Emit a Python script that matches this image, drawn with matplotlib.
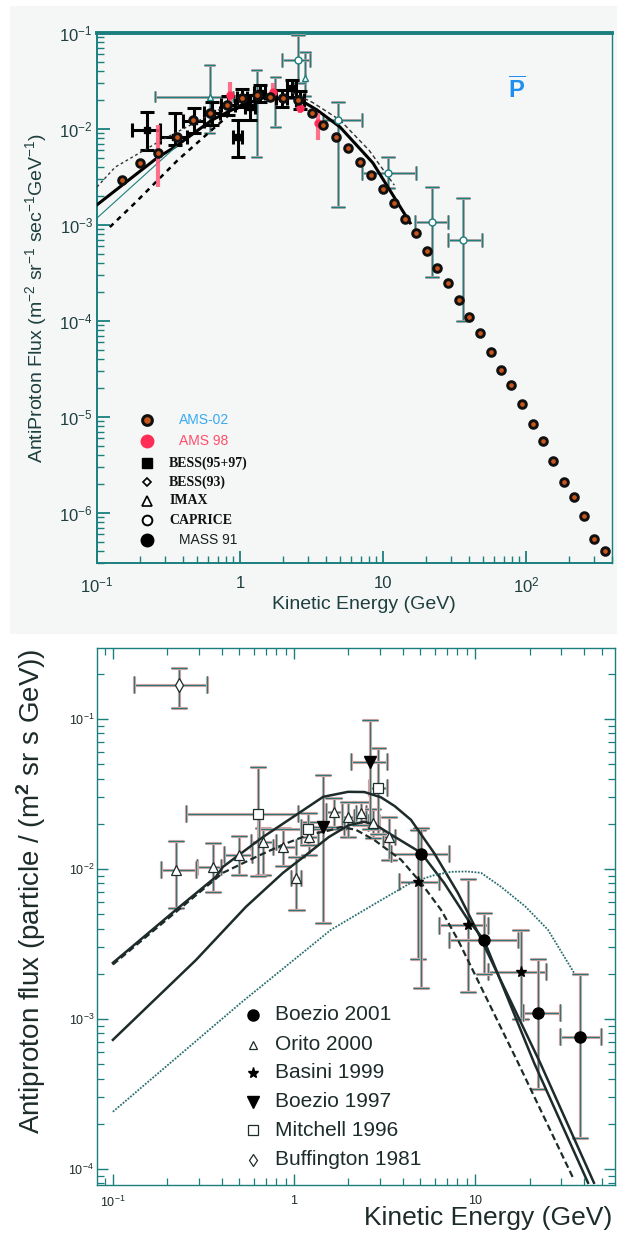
import matplotlib
matplotlib.use("Agg")
import matplotlib.pyplot as plt
import matplotlib.patheffects as pe
from matplotlib.patches import Rectangle
from matplotlib.ticker import FixedLocator, LogLocator, NullFormatter
import numpy as np

plt.rcParams['font.family'] = ['Liberation Sans', 'DejaVu Sans']
plt.rcParams['mathtext.fontset'] = 'custom'
plt.rcParams['mathtext.rm'] = 'Liberation Sans'
plt.rcParams['mathtext.it'] = 'Liberation Sans:italic'
plt.rcParams['mathtext.bf'] = 'Liberation Sans:bold'

TEAL = '#1b7f7e'
FRINGE = '#f5b3b3'
INK = '#1d2b2b'

# ---------------- upper panel: AMS-02 projection and older measurements
ams02_e = [0.150, 0.20, 0.267, 0.362, 0.469, 0.616, 0.81, 1.03, 1.31, 1.62, 2.0, 2.55,
           3.19, 3.80, 4.69, 5.69, 6.90, 8.24, 10.0, 11.9, 14.3, 17.0, 20.3, 23.9,
           28.5, 34.0, 39.9, 47.6, 56.9, 66.8, 78.5, 93.8, 112, 131, 155, 184, 217,
           255, 299, 357]
ams02_flux = [2.94e-3, 4.42e-3, 5.6e-3, 8.3e-3, 1.24e-2, 1.47e-2, 1.78e-2, 2.1e-2,
              2.26e-2, 2.16e-2, 2.1e-2, 2.0e-2, 1.47e-2, 1.10e-2, 8.3e-3, 6.3e-3,
              4.5e-3, 3.3e-3, 2.37e-3, 1.69e-3, 1.15e-3, 8.3e-4, 5.4e-4, 3.56e-4,
              2.49e-4, 1.66e-4, 1.10e-4, 7.5e-5, 4.75e-5, 3.09e-5, 2.16e-5, 1.37e-5,
              8.5e-6, 5.6e-6, 3.48e-6, 2.10e-6, 1.47e-6, 9.3e-7, 5.36e-7, 4.0e-7]

ams98_e = [0.267, 0.851, 1.70, 2.63, 3.51]
ams98_flux = [5.75e-3, 0.0226, 0.0243, 0.0166, 0.0116]
ams98_lo = [2.5e-3, 0.0178, 0.020, 0.0147, 7.7e-3]
ams98_hi = [0.011, 0.031, 0.030, 0.021, 0.0147]

bess_e = [0.224, 0.351, 0.476, 0.637, 0.824, 0.968, 1.03, 1.17, 1.38, 1.97, 2.31, 2.63]
bess_flux = [9.8e-3, 8.3e-3, 0.0121, 0.0147, 0.0178, 8.3e-3, 0.021, 0.017, 0.0237,
             0.021, 0.0267, 0.020]
bess_elo = [0.175, 0.276, 0.40, 0.56, 0.74, 0.90, 0.95, 1.08, 1.25, 1.80, 2.15, 2.45]
bess_ehi = [0.276, 0.427, 0.56, 0.72, 0.92, 1.04, 1.12, 1.27, 1.50, 2.15, 2.48, 2.80]
bess_lo = [6.1e-3, 6.8e-3, 9.1e-3, 0.011, 0.0140, 5.1e-3, 0.0170, 0.0125, 0.0190,
           0.0170, 0.0215, 0.0160]
bess_hi = [0.0150, 0.0147, 0.0166, 0.0191, 0.0222, 0.0124, 0.0260, 0.0225, 0.0290,
           0.0255, 0.0320, 0.0250]

caprice_e = [2.55, 4.84, 10.8, 22.0, 36.3]
caprice_flux = [0.0523, 0.0124, 3.48e-3, 1.07e-3, 7.0e-4]
caprice_elo = [1.97, 3.8, 7.1, 16.7, 28.5]
caprice_ehi = [3.09, 7.1, 16.9, 28.5, 49.4]
caprice_lo = [0.030, 1.55e-3, 2.4e-3, 2.9e-4, 1.0e-4]
caprice_hi = [0.0953, 0.019, 5.1e-3, 2.5e-3, 1.9e-3]

imax_e = [0.616, 1.31, 1.76, 2.85]
imax_flux = [0.0216, 0.021, 0.023, 0.034]
imax_elo = [0.254, 1.31, 1.76, 2.85]
imax_ehi = [0.89, 1.31, 1.76, 2.85]
imax_lo = [9.1e-3, 5.1e-3, 0.0105, 0.022]
imax_hi = [0.0464, 0.041, 0.035, 0.063]

# model curves, upper panel
thick_e = [0.1, 0.263, 0.351, 0.637, 1.03, 1.45, 2.5, 3.45, 5.0, 8.5, 15.5]
thick_flux = [1.62e-3, 4.99e-3, 6.5e-3, 0.0124, 0.0178, 0.021, 0.021, 0.0158, 0.0105,
              4.43e-3, 1.05e-3]
thin_e = [0.1, 0.267, 0.36]
thin_flux = [1.18e-3, 4.43e-3, 6.6e-3]
lowdash_e = [0.123, 0.185, 0.368, 0.637, 0.92, 1.3]
lowdash_flux = [9.5e-4, 1.7e-3, 4.75e-3, 9.8e-3, 0.0158, 0.020]
updot_e = [0.1, 0.134, 0.285, 0.484, 0.75]
updot_flux = [2.49e-3, 4.0e-3, 7.7e-3, 0.0116, 0.0165]
hidash_e = [2.3, 3.2, 5.0, 8.0, 12.0]
hidash_flux = [0.024, 0.019, 0.0124, 6.0e-3, 2.6e-3]

top_xticks = [0.1, 1, 10, 100]
top_xticklabels = [r'$10^{-1}$', '1', '10', r'$10^{2}$']
top_yticks = [1e-6, 1e-5, 1e-4, 1e-3, 1e-2, 1e-1]
top_yticklabels = [r'$10^{-6}$', r'$10^{-5}$', r'$10^{-4}$', r'$10^{-3}$',
                   r'$10^{-2}$', r'$10^{-1}$']

# ---------------- lower panel: compilation of measurements and models
boezio01_e = [5.03, 11.2, 22.3, 38.0]
boezio01_flux = [0.0126, 3.36e-3, 1.1e-3, 7.6e-4]
boezio01_elo = [3.43, 7.2, 18.5, 29.5]
boezio01_ehi = [7.2, 17.3, 29.5, 49.7]
boezio01_lo = [1.6e-3, 2.0e-3, 3.4e-4, 1.6e-4]
boezio01_hi = [0.0188, 5.1e-3, 2.5e-3, 2.0e-3]

orito_e = [0.223, 0.357, 0.497, 0.675, 0.87, 1.03, 1.21, 1.66, 1.99, 2.34, 2.73, 3.35]
orito_flux = [9.85e-3, 0.0103, 0.0124, 0.0151, 0.014, 8.7e-3, 0.0163, 0.024, 0.0222,
              0.0236, 0.0203, 0.0163]
orito_elo = [0.184, 0.29, 0.41, 0.58, 0.765, 0.96, 1.09, 1.5, 1.85, 2.2, 2.55, 3.1]
orito_ehi = [0.287, 0.395, 0.59, 0.80, 1.03, 1.09, 1.36, 1.85, 2.15, 2.5, 2.95, 3.6]
orito_lo = [5.5e-3, 7.0e-3, 9.1e-3, 9.1e-3, 0.0104, 5.3e-3, 0.0124, 0.019, 0.0163,
            0.0197, 0.016, 0.0115]
orito_hi = [0.0154, 0.0149, 0.0166, 0.0188, 0.0188, 0.012, 0.0206, 0.0298, 0.028,
            0.028, 0.025, 0.0222]

basini_e = [4.84, 9.15, 17.9]
basini_flux = [8.2e-3, 4.2e-3, 2.06e-3]
basini_elo = [3.8, 6.3, 11.8]
basini_ehi = [6.3, 11.8, 24.6]
basini_lo = [2.5e-3, 1.5e-3, 1.0e-3]
basini_hi = [0.0182, 8.5e-3, 3.9e-3]

boezio97_e = [1.45, 2.63]
boezio97_flux = [0.019, 0.0517]
boezio97_elo = [1.1, 2.06]
boezio97_ehi = [1.9, 3.26]
boezio97_lo = [4.37e-3, 0.0185]
boezio97_hi = [0.0424, 0.0985]

mitchell_e = [0.633, 1.2, 2.91]
mitchell_flux = [0.0233, 0.0185, 0.0347]
mitchell_elo = [0.253, 0.64, 2.6]
mitchell_ehi = [1.05, 2.0, 3.26]
mitchell_lo = [9.0e-3, 0.0145, 0.017]
mitchell_hi = [0.048, 0.0235, 0.064]

buff_e = [0.232]
buff_flux = [0.169]
buff_elo = [0.131]
buff_ehi = [0.33]
buff_lo = [0.118]
buff_hi = [0.219]

upper_e = [0.1, 0.223, 0.371, 0.405, 0.675, 1.03, 1.45, 1.99, 2.45, 3.02, 3.6, 4.43,
           5.93, 8.05, 10.4, 22.9, 45.4]
upper_flux = [2.36e-3, 5.33e-3, 8.85e-3, 0.0103, 0.0163, 0.0229, 0.0302, 0.0326, 0.0325,
              0.030, 0.0262, 0.0212, 0.0128, 6.9e-3, 3.74e-3, 5.09e-4, 8.07e-5]
middle_e = [0.1, 0.288, 0.543, 0.87, 1.21, 1.56, 2.0, 2.44, 2.85, 3.31, 5.03, 6.74,
            9.15, 11.2, 21.2, 42.1]
middle_flux = [7.24e-4, 2.47e-3, 5.58e-3, 9.4e-3, 0.0128, 0.0163, 0.0195, 0.0206,
               0.0195, 0.0174, 0.0128, 8.07e-3, 4.57e-3, 3.36e-3, 5.09e-4, 8.07e-5]
dashed_e = [0.1, 0.405, 0.617, 0.87, 1.21, 1.56, 1.82, 2.2, 2.77, 3.9, 5.03, 6.49,
            8.05, 17.3, 35.2]
dashed_flux = [2.3e-3, 9.4e-3, 0.012, 0.0145, 0.0169, 0.018, 0.019, 0.0182, 0.0156,
               0.0115, 8.07e-3, 5.33e-3, 3.36e-3, 5.09e-4, 8.45e-5]
dotted_e = [0.1, 0.51, 1.6, 3.04, 4.43, 6.0, 7.37, 9.0, 10.8, 13.9, 19.0, 25.3, 35.2]
dotted_flux = [2.4e-4, 1.28e-3, 3.92e-3, 6.2e-3, 8.07e-3, 9.1e-3, 9.55e-3, 9.6e-3,
               9.4e-3, 7.6e-3, 5.6e-3, 3.92e-3, 2.03e-3]

bot_xticks = [0.1, 1, 10]
bot_xticklabels = [r'$10^{-1}$', '1', '10']
bot_yticks = [1e-4, 1e-3, 1e-2, 1e-1]
bot_yticklabels = [r'$10^{-4}$', r'$10^{-3}$', r'$10^{-2}$', r'$10^{-1}$']

bot_legend = ['Boezio 2001', 'Orito 2000', 'Basini 1999', 'Boezio 1997',
              'Mitchell 1996', 'Buffington 1981']


def fringe(width):
    return [pe.withStroke(linewidth=width, foreground=FRINGE), pe.Normal()]


def xy_err(ax, e, f, elo, ehi, lo, hi, color, lw, cap, fr=None, z=3):
    e = np.asarray(e); f = np.asarray(f)
    xerr = [e - np.asarray(elo), np.asarray(ehi) - e]
    yerr = [f - np.asarray(lo), np.asarray(hi) - f]
    cont = ax.errorbar(e, f, xerr=xerr, yerr=yerr, fmt='none', ecolor=color,
                       elinewidth=lw, capsize=cap, capthick=lw, zorder=z)
    if fr:
        for art in list(cont.lines[1]) + list(cont.lines[2]):
            art.set_path_effects(fringe(fr))
    return cont


def style_spines(ax, widths):
    for side, w in widths.items():
        ax.spines[side].set_color(TEAL)
        ax.spines[side].set_linewidth(w)


fig = plt.figure(figsize=(6.17, 12.43), dpi=100)
fig.add_artist(Rectangle((0.0162, 0.4899), 0.9838, 0.5053, transform=fig.transFigure,
                         facecolor='#f4f7f5', edgecolor='none', zorder=0))

# ======================= upper panel
ax1 = fig.add_axes([0.1572, 0.54706, 0.8347, 0.4264])
ax1.set_facecolor('none')
ax1.set_xscale('log')
ax1.set_yscale('log')
ax1.set_xlim(0.1, 400)
ax1.set_ylim(3.0e-7, 0.1)
style_spines(ax1, {'left': 1.4, 'bottom': 1.4, 'right': 1.0, 'top': 2.8})

ax1.xaxis.set_major_locator(FixedLocator(top_xticks))
ax1.xaxis.set_minor_locator(LogLocator(base=10, subs=np.arange(2, 10)))
ax1.xaxis.set_minor_formatter(NullFormatter())
ax1.set_xticklabels(top_xticklabels)
ax1.yaxis.set_major_locator(FixedLocator(top_yticks))
ax1.yaxis.set_minor_locator(LogLocator(base=10, subs=np.arange(2, 10)))
ax1.yaxis.set_minor_formatter(NullFormatter())
ax1.set_yticklabels(top_yticklabels)
ax1.tick_params(which='both', direction='in', top=False, right=False, color=TEAL,
                labelcolor='#1f3f3f', labelsize=12)
ax1.tick_params(which='major', length=9, width=1.3)
ax1.tick_params(which='minor', length=5, width=1.0)
ax1.tick_params(axis='x', pad=9)
ax1.tick_params(axis='y', pad=3)

ax1.plot(thick_e, thick_flux, color='black', lw=2.2, zorder=4)
ax1.plot(thin_e, thin_flux, color=TEAL, lw=0.8, zorder=4)
ax1.plot(lowdash_e, lowdash_flux, color='black', lw=1.8, ls=(0, (2, 2)), zorder=4)
ax1.plot(updot_e, updot_flux, color='#333333', lw=1.0, ls=(0, (2, 2)), zorder=4)
ax1.plot(hidash_e, hidash_flux, color='#333333', lw=1.0, ls=(0, (3, 2)), zorder=4)

xy_err(ax1, imax_e, imax_flux, imax_elo, imax_ehi, imax_lo, imax_hi, TEAL, 1.0, 4,
       fr=2.0)
ax1.plot(imax_e[:1] + imax_e[3:], imax_flux[:1] + imax_flux[3:], ls='none', marker='^',
         ms=5, mfc='white', mec=TEAL, mew=1.0, zorder=5)
xy_err(ax1, caprice_e, caprice_flux, caprice_elo, caprice_ehi, caprice_lo, caprice_hi,
       TEAL, 1.0, 5, fr=2.0)
ax1.plot(caprice_e, caprice_flux, ls='none', marker='o', ms=5, mfc='white', mec=TEAL,
         mew=1.0, zorder=5)
xy_err(ax1, bess_e, bess_flux, bess_elo, bess_ehi, bess_lo, bess_hi, 'black', 2.2, 5)
ax1.plot(bess_e, bess_flux, ls='none', marker='s', ms=4, color='black', zorder=5)
ax1.errorbar(ams98_e, ams98_flux,
             yerr=[np.subtract(ams98_flux, ams98_lo), np.subtract(ams98_hi, ams98_flux)],
             fmt='none', ecolor='#ff5a78', elinewidth=3.0, alpha=0.85, zorder=6)
ax1.plot(ams98_e, ams98_flux, ls='none', marker='o', ms=5, color='#ff2d55', zorder=6)
ax1.plot(ams02_e, ams02_flux, ls='none', marker='o', ms=5.5, mfc='#c8561a',
         mec='#101010', mew=2.1, zorder=7)

# legend of the upper panel, drawn in axes coordinates
leg_rows = [0.270, 0.230, 0.189, 0.153, 0.117, 0.081, 0.043]
tr = ax1.transAxes
ax1.plot([0.097], [leg_rows[0]], marker='o', ms=7, mfc='#c8561a', mec='#101010', mew=2.2,
         transform=tr, clip_on=False)
ax1.plot([0.097], [leg_rows[1]], marker='o', ms=9, color='#ff2d55', transform=tr,
         clip_on=False)
ax1.plot([0.097], [leg_rows[2]], marker='s', ms=7, color='black', transform=tr)
ax1.plot([0.097], [leg_rows[3]], marker='D', ms=4.5, mfc='white', mec='black', mew=1.2,
         transform=tr)
ax1.plot([0.097], [leg_rows[4]], marker='^', ms=7, mfc='white', mec='black', mew=1.2,
         transform=tr)
ax1.plot([0.097], [leg_rows[5]], marker='o', ms=7, mfc='white', mec='black', mew=1.4,
         transform=tr)
ax1.plot([0.097], [leg_rows[6]], marker='o', ms=9, color='black', transform=tr)
ax1.text(0.160, leg_rows[0], 'AMS-02', color='#3aa9f2', fontsize=10, va='center',
         transform=tr)
ax1.text(0.160, leg_rows[1], 'AMS 98', color='#ff4d6d', fontsize=10, va='center',
         transform=tr)
for row, name in zip(leg_rows[2:6], ['BESS(95+97)', 'BESS(93)', 'IMAX', 'CAPRICE']):
    ax1.text(0.140, row, name, color='#111111', fontsize=10, fontweight='bold',
             family=['Liberation Serif', 'DejaVu Serif'], va='center', transform=tr)
ax1.text(0.160, leg_rows[6], 'MASS 91', color='#1a2020', fontsize=10, va='center',
         transform=tr)

ax1.text(0.8155, 0.892, r'$\overline{\mathbf{P}}$', color='#1e8ff0', fontsize=17,
         ha='center', va='center', transform=tr)

ax1.set_xlabel('Kinetic Energy (GeV)', fontsize=14, color='#1f3f3f')
ax1.xaxis.set_label_coords(0.518, -0.062)
ax1.set_ylabel(r'AntiProton Flux (m$^{-2}$ sr$^{-1}$ sec$^{-1}$GeV$^{-1}$)',
               fontsize=14, color='#1f3f3f')
ax1.yaxis.set_label_coords(-0.093, 0.5)

# ======================= lower panel
ax2 = fig.add_axes([0.1572, 0.04666, 0.8395, 0.4321])
ax2.set_xscale('log')
ax2.set_yscale('log')
ax2.set_xlim(0.0817, 59.3)
ax2.set_ylim(7.8e-5, 0.297)
style_spines(ax2, {'left': 1.0, 'bottom': 1.0, 'right': 1.0, 'top': 1.0})

ax2.xaxis.set_major_locator(FixedLocator(bot_xticks))
ax2.xaxis.set_minor_locator(LogLocator(base=10, subs=np.arange(2, 10)))
ax2.xaxis.set_minor_formatter(NullFormatter())
ax2.set_xticklabels(bot_xticklabels)
ax2.yaxis.set_major_locator(FixedLocator(bot_yticks))
ax2.yaxis.set_minor_locator(LogLocator(base=10, subs=np.arange(2, 10)))
ax2.yaxis.set_minor_formatter(NullFormatter())
ax2.set_yticklabels(bot_yticklabels)
ax2.tick_params(which='both', direction='in', top=True, right=True, color=TEAL,
                labelcolor=INK, labelsize=9)
ax2.tick_params(which='major', length=8, width=1.0)
ax2.tick_params(which='minor', length=5, width=0.9)
ax2.tick_params(axis='x', pad=7)
ax2.tick_params(axis='y', pad=2)

ax2.plot(upper_e, upper_flux, color=INK, lw=1.8, zorder=4)
ax2.plot(middle_e, middle_flux, color=INK, lw=1.8, zorder=4)
ax2.plot(dashed_e, dashed_flux, color=INK, lw=1.6, ls=(0, (3, 1.6)), zorder=4)
ax2.plot(dotted_e, dotted_flux, color='#2a6e6e', lw=1.3, ls=(0, (1, 0.8)), zorder=4)

ERR = '#2f7777'
for args in [(buff_e, buff_flux, buff_elo, buff_ehi, buff_lo, buff_hi),
             (orito_e, orito_flux, orito_elo, orito_ehi, orito_lo, orito_hi),
             (mitchell_e, mitchell_flux, mitchell_elo, mitchell_ehi, mitchell_lo,
              mitchell_hi),
             (boezio97_e, boezio97_flux, boezio97_elo, boezio97_ehi, boezio97_lo,
              boezio97_hi),
             (basini_e, basini_flux, basini_elo, basini_ehi, basini_lo, basini_hi),
             (boezio01_e, boezio01_flux, boezio01_elo, boezio01_ehi, boezio01_lo,
              boezio01_hi)]:
    xy_err(ax2, *args, ERR, 0.9, 6, fr=2.3)

ax2.plot(boezio01_e, boezio01_flux, ls='none', marker='o', ms=8, color='black', zorder=6)
ax2.plot(orito_e, orito_flux, ls='none', marker='^', ms=7, mfc='white', mec=INK,
         mew=0.9, zorder=6)
ax2.plot(basini_e, basini_flux, ls='none', marker='*', ms=8, color='black', zorder=6)
ax2.plot(boezio97_e, boezio97_flux, ls='none', marker='v', ms=9, color='black', zorder=6)
ax2.plot(mitchell_e, mitchell_flux, ls='none', marker='s', ms=7, mfc='white', mec=INK,
         mew=0.9, zorder=6)
ax2.plot(buff_e, buff_flux, ls='none', marker='d', ms=7, mfc='white', mec=INK, mew=0.9,
         zorder=6)

tr2 = ax2.transAxes
leg2_rows = [0.3166, 0.2607, 0.2086, 0.1546, 0.1024, 0.0466]
leg2_marks = [dict(marker='o', ms=8, color='black'),
              dict(marker='^', ms=6, mfc='white', mec=INK, mew=0.9),
              dict(marker='*', ms=8, color='black'),
              dict(marker='v', ms=8, color='black'),
              dict(marker='s', ms=7, mfc='white', mec=INK, mew=0.9),
              dict(marker='d', ms=6, mfc='white', mec=INK, mew=0.9)]
for row, name, mk in zip(leg2_rows, bot_legend, leg2_marks):
    ax2.plot([0.301], [row], ls='none', transform=tr2, **mk)
    ax2.text(0.3436, row, name, fontsize=15, color=INK, va='center', transform=tr2)

ax2.set_xlabel('Kinetic Energy (GeV)', fontsize=19, color=INK, loc='right')
ax2.xaxis.set_label_coords(0.994, -0.040)
ax2.set_ylabel('Antiproton flux (particle / (m$^{\\mathbf{2}}$ sr s GeV))', fontsize=20,
               color=INK)
ax2.yaxis.set_label_coords(-0.095, 0.547)

fig.savefig('out.png', dpi=100)
